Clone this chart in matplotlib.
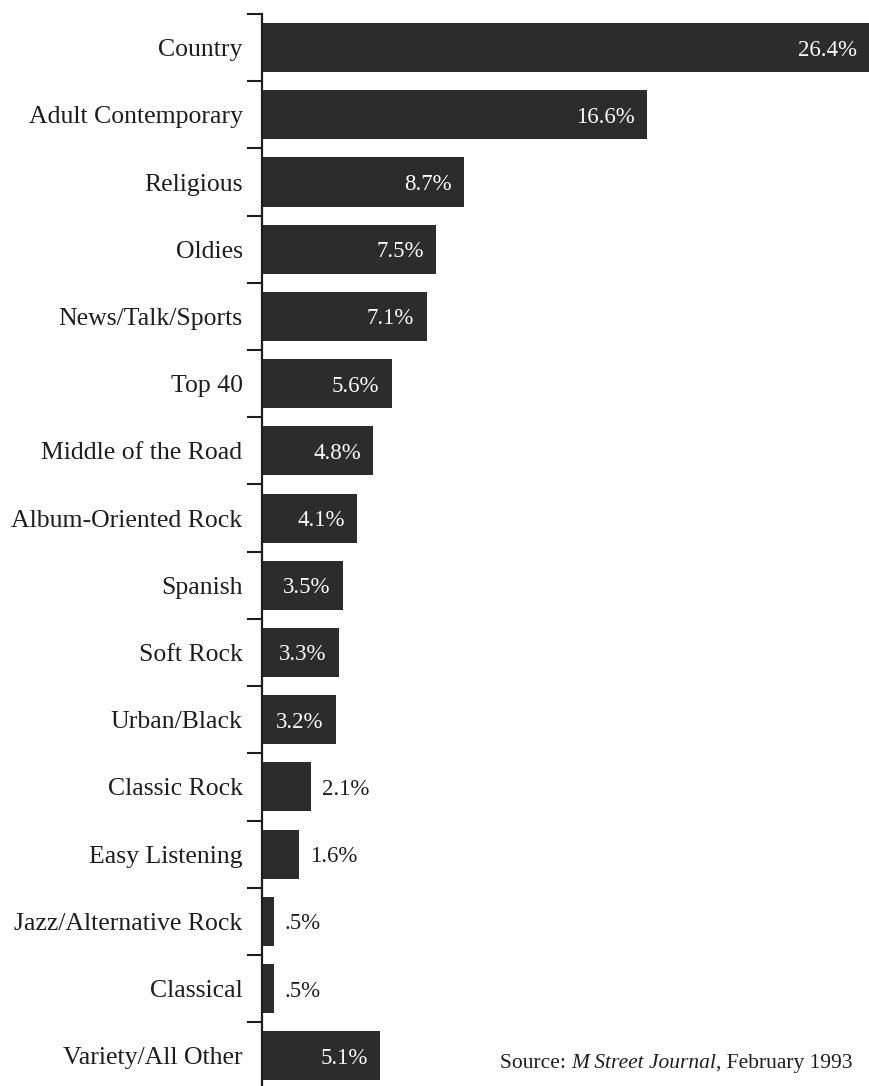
import matplotlib
matplotlib.use('Agg')
import matplotlib.pyplot as plt

# radio station formats, share of stations
formats = ['Country', 'Adult Contemporary', 'Religious', 'Oldies', 'News/Talk/Sports',
           'Top 40', 'Middle of the Road', 'Album-Oriented Rock', 'Spanish', 'Soft Rock',
           'Urban/Black', 'Classic Rock', 'Easy Listening', 'Jazz/Alternative Rock',
           'Classical', 'Variety/All Other']
shares = [26.4, 16.6, 8.7, 7.5, 7.1, 5.6, 4.8, 4.1, 3.5, 3.3, 3.2, 2.1, 1.6, 0.5, 0.5, 5.1]
share_labels = ['26.4%', '16.6%', '8.7%', '7.5%', '7.1%', '5.6%', '4.8%', '4.1%', '3.5%',
                '3.3%', '3.2%', '2.1%', '1.6%', '.5%', '.5%', '5.1%']
outside = ['Classic Rock', 'Easy Listening', 'Jazz/Alternative Rock', 'Classical']

bar_col = '#2c2c2c'
txt_col = '#1e1e1e'
font = 'Liberation Serif'

fig = plt.figure(figsize=(8.7, 10.86), dpi=100)
ax = fig.add_axes([262/870, 0, 1 - 262/870, 1 - 14/1086])

n = len(formats)
ypos = list(range(n))
ax.barh(ypos, shares, height=0.73, color=bar_col, zorder=2)

xmax = 26.2
ax.set_xlim(0, xmax)
ax.set_ylim(15.45, -0.5)

for i, (name, v, lab) in enumerate(zip(formats, shares, share_labels)):
    if name in outside:
        ax.annotate(lab, xy=(v, i), xytext=(8, 0), textcoords='offset points',
                    ha='left', va='center_baseline', color=txt_col, fontsize=16.5, family=font)
    else:
        ax.annotate(lab, xy=(min(v, xmax), i), xytext=(-9, 0), textcoords='offset points',
                    ha='right', va='center_baseline', color='white', fontsize=16.5, family=font)

ax.set_yticks(ypos)
ax.set_yticklabels(formats, family=font, fontsize=18.5, color=txt_col)
ax.tick_params(axis='y', which='major', length=0, pad=14)
ax.set_yticks([i - 0.5 for i in range(n)], minor=True)
ax.tick_params(axis='y', which='minor', length=11, width=1.5, color=txt_col, direction='out')
ax.set_xticks([])

for s in ['top', 'right', 'bottom']:
    ax.spines[s].set_visible(False)
ax.spines['left'].set_linewidth(1.6)
ax.spines['left'].set_color(txt_col)

# source note with italic journal name
src_fs = 15.5
t1 = fig.text(500/870, 1 - 1068/1086, 'Source: ', family=font, fontsize=src_fs,
              color=txt_col, ha='left', va='baseline')
t2 = fig.text(0, 0, 'M Street Journal', family=font, fontsize=src_fs, style='italic',
              color=txt_col, ha='left', va='baseline')
t3 = fig.text(0, 0, ', February 1993', family=font, fontsize=src_fs,
              color=txt_col, ha='left', va='baseline')
fig.canvas.draw()
r = fig.canvas.get_renderer()
b1 = t1.get_window_extent(r)
t2.set_position((b1.x1 / fig.bbox.width, t1.get_position()[1]))
fig.canvas.draw()
b2 = t2.get_window_extent(r)
t3.set_position((b2.x1 / fig.bbox.width, t1.get_position()[1]))

fig.savefig('out.png', dpi=100)
